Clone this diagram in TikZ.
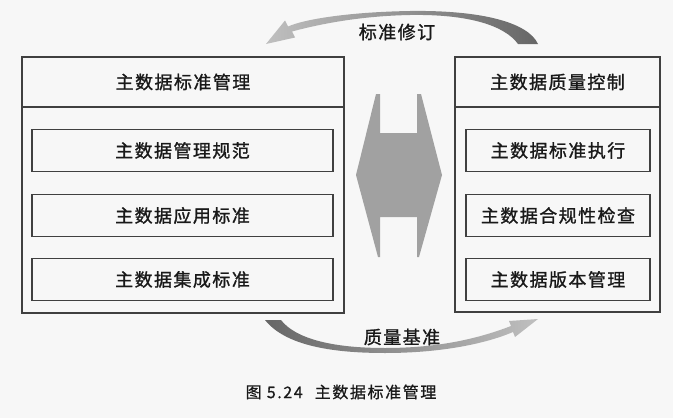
\documentclass[tikz,border=0pt]{standalone}
\usepackage{fontspec}
\setmainfont{Noto Sans CJK SC}
\newfontfamily\cjklabel[LetterSpace=8, FakeBold=1.2]{Noto Sans CJK SC}
\newfontfamily\cjkcaption[LetterSpace=10, FakeBold=0.8]{Noto Sans CJK SC}

\begin{document}
\begin{tikzpicture}[x=1pt, y=-1pt,
    boxline/.style={draw=black!75, line width=1.1pt},
    outerbox/.style={boxline, rectangle, inner sep=0pt},
    item/.style={boxline, rectangle, inner sep=0pt, minimum height=42pt,
      font=\cjklabel\fontsize{18}{20}\selectfont, text=black!90},
    title/.style={font=\cjklabel\fontsize{18}{20}\selectfont, text=black!90},
    caption/.style={font=\cjkcaption\fontsize{16}{18}\selectfont, text=black!90},
    hub/.style={fill=black!37},
  ]
  % page
  \fill[black!3] (0,0) rectangle (673,418);

  % standard management block
  \node[outerbox, minimum width=322pt, minimum height=256pt] (stdmgmt) at (183,185) {};
  \coordinate (div) at (0,107);
  \draw[boxline] (stdmgmt.west |- div) -- (stdmgmt.east |- div);
  \node[title] (stdtitle) at (183,82) {主数据标准管理};
  \node[item, minimum width=301pt] (stdspec) at (182.5,150.5) {主数据管理规范};
  \node[item, minimum width=301pt] (stdapp) at (182.5,215.5) {主数据应用标准};
  \node[item, minimum width=301pt] (stdint) at (182.5,279.5) {主数据集成标准};

  % quality control block
  \node[outerbox, minimum width=205pt, minimum height=255pt] (qctrl) at (557.5,184.5) {};
  \draw[boxline] (qctrl.west |- div) -- (qctrl.east |- div);
  \node[title] (qtitle) at (557.5,82) {主数据质量控制};
  \node[item, minimum width=184pt] (qexec) at (558,150.5) {主数据标准执行};
  \node[item, minimum width=184pt] (qcheck) at (558,215.5) {主数据合规性检查};
  \node[item, minimum width=184pt] (qver) at (558,279.5) {主数据版本管理};

  % double arrow in the middle
  \fill[hub] (376,94) -- (380,94) -- (380,133) -- (417,133) -- (417,94) -- (421,94)
    -- (442,175) -- (419,257) -- (417,257) -- (417,217) -- (380,217) -- (380,257)
    -- (378,257) -- (356,175) -- cycle;

  % revision arrow (top)
  \shade[left color=black!25, right color=black!60]
    (538,44) .. controls (528,22) and (480,10) .. (410,11)
    .. controls (350,12) and (305,19) .. (288,26.5)
    -- (285,20.5) -- (266,44) -- (295,37.5) -- (292,31.5)
    .. controls (320,24) and (360,16) .. (410,15)
    .. controls (470,14) and (505,26) .. (518,44) -- cycle;
  \node[title] (revise) at (397,32) {标准修订};

  % baseline arrow (bottom)
  \shade[left color=black!60, right color=black!25]
    (265,320) .. controls (285,345) and (330,353) .. (385,353)
    .. controls (440,353) and (485,344) .. (513,332)
    -- (515,337) -- (538,319) -- (509,321) -- (511,326)
    .. controls (480,338) and (440,348) .. (385,348)
    .. controls (330,348) and (295,338) .. (281,320) -- cycle;
  \node[title] (baseline) at (402,337) {质量基准};

  % caption
  \node[caption] (fig) at (341,392) {图 5.24\hspace{12pt}主数据标准管理};
\end{tikzpicture}
\end{document}
